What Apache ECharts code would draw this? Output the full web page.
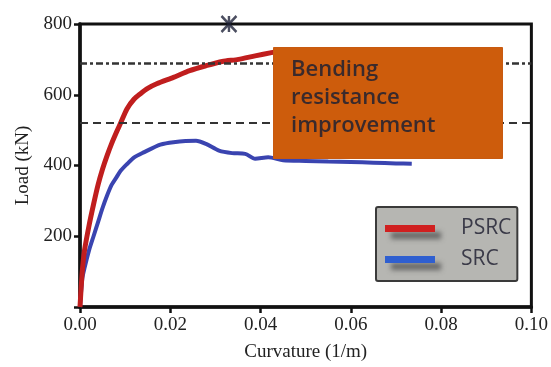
<!DOCTYPE html>
<html><head><meta charset="utf-8">
<script src="https://cdn.jsdelivr.net/npm/echarts@6/dist/echarts.min.js"></script>
<style>html,body{margin:0;padding:0;background:#fff}#c{width:551px;height:367px}</style>
</head><body><div id="c"></div>
<script>
const psrcX = [0, 0.0005, 0.001, 0.002, 0.003, 0.004, 0.005, 0.006, 0.007, 0.008, 0.009, 0.0104, 0.012, 0.0134, 0.015, 0.017, 0.0207, 0.0243, 0.0279, 0.0315, 0.0351, 0.0388, 0.0424, 0.045];
const psrcY = [0, 100, 160, 230, 290, 345, 390, 428, 462, 492, 520, 560, 588, 603, 618, 631, 649, 668, 682, 694, 700, 710, 719, 725];
const srcX = [0, 0.0005, 0.001, 0.002, 0.003, 0.004, 0.005, 0.006, 0.007, 0.008, 0.009, 0.0105, 0.012, 0.0141, 0.0178, 0.0207, 0.0257, 0.0279, 0.0308, 0.0337, 0.0366, 0.0388, 0.0417, 0.045, 0.05, 0.055, 0.06, 0.065, 0.07, 0.0735];
const srcY = [0, 80, 110, 160, 200, 240, 280, 315, 345, 365, 385, 405, 423, 437, 459, 466, 470, 461, 442, 435, 433, 419, 423, 415, 413, 411, 410, 408, 406, 405];
const refLines = [690, 520];
const markerPoint = [[0.033, 800]];
const xTicks = [0, 0.02, 0.04, 0.06, 0.08, 0.1];
const yTicks = [0, 200, 400, 600, 800];
const seriesNames = ['PSRC', 'SRC'];
const boxText = 'Bending\nresistance\nimprovement';

const chart = echarts.init(document.getElementById('c'), null, {renderer: 'canvas'});
const serif = '"Liberation Serif", "Times New Roman", serif';
chart.setOption({
  animation: false,
  grid: {left: 80, right: 13, top: 24, bottom: 60, show: true, borderColor: '#111', borderWidth: 3, backgroundColor: 'transparent'},
  xAxis: {
    type: 'value', min: xTicks[0], max: xTicks[xTicks.length - 1], interval: 0.02,
    name: 'Curvature (1/m)', nameLocation: 'middle', nameGap: 36,
    nameTextStyle: {fontFamily: serif, fontSize: 19, color: '#222'},
    axisLine: {show: true, onZero: false, lineStyle: {color: '#111', width: 3.5}},
    axisTick: {show: true, inside: false, length: 6, lineStyle: {color: '#111', width: 2.5}},
    axisLabel: {fontFamily: serif, fontSize: 19, color: '#222', margin: 9, formatter: v => v.toFixed(2)},
    splitLine: {show: false}
  },
  yAxis: {
    type: 'value', min: yTicks[0], max: yTicks[yTicks.length - 1], interval: 200,
    name: 'Load (kN)', nameLocation: 'middle', nameGap: 44, nameRotate: 90,
    nameTextStyle: {fontFamily: serif, fontSize: 19, color: '#222'},
    axisLine: {show: true, onZero: false, lineStyle: {color: '#111', width: 3.5}},
    axisTick: {show: true, inside: false, length: 6, lineStyle: {color: '#111', width: 2.5}},
    axisLabel: {fontFamily: serif, fontSize: 19, color: '#222', margin: 8, formatter: v => v === 0 ? '' : String(v)},
    splitLine: {show: false}
  },
  legend: {
    data: seriesNames, orient: 'vertical', left: 376, top: 207,
    backgroundColor: '#b6b6b2', borderColor: '#3a3a3a', borderWidth: 2, borderRadius: 2,
    padding: [11, 6, 11, 9], itemGap: 10, itemWidth: 50, itemHeight: 7, icon: 'rect',
    itemStyle: {shadowColor: 'rgba(70,70,70,0.7)', shadowBlur: 5, shadowOffsetY: 7, shadowOffsetX: 6},
    textStyle: {fontFamily: '"Open Sans", sans-serif', fontSize: 21, color: '#3a3a48', padding: [0, 0, 0, 21], lineHeight: 20}
  },
  series: [
    {
      name: 'refs', type: 'line', data: [], z: 1, silent: true,
      markLine: {
        symbol: 'none', silent: true, label: {show: false},
        data: [
          {yAxis: refLines[0], lineStyle: {color: '#333', width: 2.5, type: [7, 3, 3, 3]}},
          {yAxis: refLines[1], lineStyle: {color: '#333', width: 2, type: [8, 5]}}
        ]
      }
    },
    {
      name: seriesNames[0], type: 'line', showSymbol: false, smooth: 0.25, z: 3,
      data: psrcX.map((x, i) => [x, psrcY[i]]),
      lineStyle: {color: '#c01e1e', width: 5}, itemStyle: {color: '#d02020'}
    },
    {
      name: seriesNames[1], type: 'line', showSymbol: false, smooth: 0.25, z: 2,
      data: srcX.map((x, i) => [x, srcY[i]]),
      lineStyle: {color: '#3a44b0', width: 4}, itemStyle: {color: '#2f5fd0'}
    },
    {
      name: 'marker', type: 'scatter', data: markerPoint, z: 5,
      symbol: 'path://M0,0L10,10M10,0L0,10M5,0L5,10', symbolSize: [15, 16],
      itemStyle: {color: 'transparent', borderColor: '#1e2238', borderWidth: 2.5}
    }
  ],
  graphic: [
    {
      type: 'rect', z: 100, left: 273, top: 47,
      shape: {width: 229, height: 111},
      style: {fill: '#cd5c0c', stroke: '#c85a10', lineWidth: 1}
    },
    {
      type: 'text', z: 101, left: 291, top: 56,
      style: {text: boxText, font: '600 22px "Open Sans", sans-serif', fill: '#3a2a2c', lineHeight: 28}
    }
  ]
});
</script></body></html>
